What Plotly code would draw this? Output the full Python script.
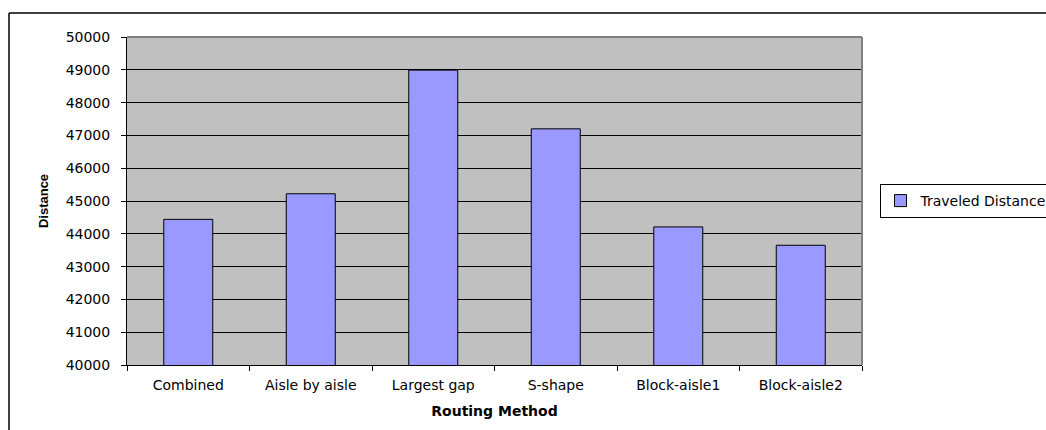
import plotly.graph_objects as go

categories = ["Combined", "Aisle by aisle", "Largest gap", "S-shape", "Block-aisle1", "Block-aisle2"]
traveled_distance = [44440, 45220, 48990, 47200, 44210, 43650]
y_ticks = [40000, 41000, 42000, 43000, 44000, 45000, 46000, 47000, 48000, 49000, 50000]

W, H = 1046, 430
ML, MR, MT, MB = 127, 184, 37, 65
pw = W - ML - MR
ph = H - MT - MB

def px_x(x):
    return (x - ML) / pw

def px_y(y):
    return (H - MB - y) / ph

fig = go.Figure()
fig.add_trace(go.Bar(
    x=categories,
    y=traveled_distance,
    name="Traveled Distance",
    marker=dict(color="#9999FF", line=dict(color="black", width=1)),
    width=0.4,
))

fig.update_layout(
    width=W, height=H,
    margin=dict(l=ML, r=MR, t=MT, b=MB, autoexpand=False),
    paper_bgcolor="white",
    plot_bgcolor="#C0C0C0",
    font=dict(family="DejaVu Sans", size=14, color="black"),
    showlegend=True,
    legend=dict(
        x=px_x(879.5), xanchor="left", y=0.5, yanchor="middle",
        bordercolor="black", borderwidth=1, bgcolor="white",
        font=dict(family="DejaVu Sans", size=14, color="black"),
        itemwidth=30,
    ),
    xaxis=dict(
        type="category",
        showgrid=False,
        showline=True, linecolor="black", linewidth=1,
        ticks="outside", tickson="boundaries", ticklen=5, tickcolor="black",
        tickfont=dict(family="DejaVu Sans", size=14, color="black"),
        ticklabelstandoff=7,
        title=dict(text="Routing Method",
                   font=dict(family="DejaVu Sans", size=14, color="black", weight="bold"),
                   standoff=14),
        automargin=False,
    ),
    yaxis=dict(
        range=[40000, 50000],
        tickvals=y_ticks,
        ticktext=[str(v) for v in y_ticks],
        showgrid=True, gridcolor="black", gridwidth=1,
        showline=True, linecolor="black", linewidth=1,
        ticks="outside", ticklen=5, tickcolor="black",
        tickfont=dict(family="DejaVu Sans", size=14, color="black"),
        ticklabelstandoff=8,
        zeroline=False,
        title=dict(text="Distance",
                   font=dict(family="Liberation Sans", size=13, color="black", weight="bold"),
                   standoff=14),
        automargin=False,
    ),
    bargap=0.6,
)

# plot area border (gray top and right)
fig.add_shape(type="line", xref="paper", yref="paper", x0=0, x1=1, y0=1, y1=1,
              line=dict(color="#808080", width=2), layer="above")
fig.add_shape(type="line", xref="paper", yref="paper", x0=1, x1=1, y0=0, y1=1,
              line=dict(color="#808080", width=2), layer="above")

# outer chart border (top and left visible)
fig.add_shape(type="line", xref="paper", yref="paper",
              x0=px_x(9), x1=px_x(W + 10), y0=px_y(13), y1=px_y(13),
              line=dict(color="black", width=1.5))
fig.add_shape(type="line", xref="paper", yref="paper",
              x0=px_x(9), x1=px_x(9), y0=px_y(13), y1=px_y(H + 10),
              line=dict(color="black", width=1.5))

fig.write_html("out.html")
